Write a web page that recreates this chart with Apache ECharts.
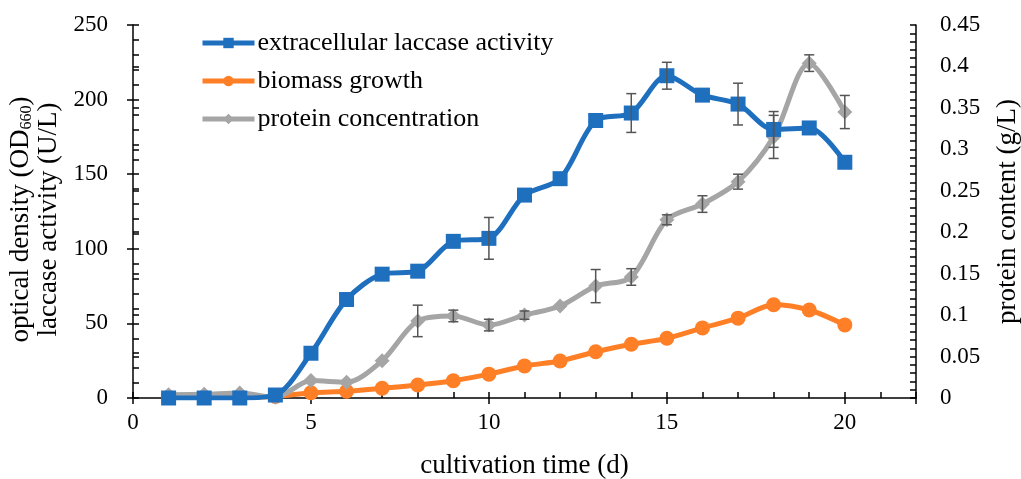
<!DOCTYPE html>
<html>
<head>
<meta charset="utf-8">
<script src="https://cdn.jsdelivr.net/npm/echarts@6/dist/echarts.min.js"></script>
<style>
  html, body { margin: 0; padding: 0; background: #fff; }
  #chart { width: 1021px; height: 479px; }
</style>
</head>
<body>
<div id="chart"></div>
<script>
// cultivation days
const days = [1, 2, 3, 4, 5, 6, 7, 8, 9, 10, 11, 12, 13, 14, 15, 16, 17, 18, 19, 20];

// extracellular laccase activity (U/L), left axis
const laccase = [0, 0, 0, 2, 30, 66, 83, 85, 105, 107, 136, 147, 186, 191, 216, 203, 197, 180, 181, 158];
const laccaseErr = [0, 0, 0, 0, 0, 0, 0, 0, 0, 14, 0, 0, 0, 13, 9, 0, 14, 12, 0, 0];

// biomass growth (OD660), left axis
const biomass = [0.5, 0.5, 0.5, 1, 3.5, 4.5, 6.5, 8.7, 11.6, 16, 21.5, 24.8, 31, 36, 40, 47, 53.5, 62.5, 59, 49];

// protein concentration (g/L), right axis
const protein = [0.004, 0.0045, 0.006, 0.001, 0.021, 0.019, 0.045, 0.093, 0.099, 0.088, 0.100, 0.111, 0.135, 0.146, 0.215, 0.234, 0.261, 0.315, 0.404, 0.345];
const proteinErr = [0, 0, 0, 0, 0, 0, 0, 0.019, 0.007, 0.007, 0.005, 0, 0.02, 0.01, 0.006, 0.01, 0.009, 0.026, 0.01, 0.02];

const FONT = 'Liberation Serif';
const BLUE = '#1f6fbf';
const ORANGE = '#ff7f27';
const GREY = '#a5a5a5';

const chart = echarts.init(document.getElementById('chart'), null, { renderer: 'canvas' });

// vertical error bars with short caps
function errorBars(values, errs, yAxisIndex) {
  const data = [];
  values.forEach((v, i) => {
    if (errs[i] > 0) data.push([days[i], v - errs[i], v + errs[i]]);
  });
  return {
    type: 'custom',
    xAxisIndex: 0,
    yAxisIndex: yAxisIndex,
    z: 10,
    silent: true,
    data: data,
    renderItem: function (params, api) {
      const x = api.value(0);
      const lo = api.coord([x, api.value(1)]);
      const hi = api.coord([x, api.value(2)]);
      const w = 5;
      const style = { stroke: '#555', lineWidth: 1.5, fill: null };
      return {
        type: 'group',
        children: [
          { type: 'line', shape: { x1: lo[0], y1: lo[1], x2: hi[0], y2: hi[1] }, style: style },
          { type: 'line', shape: { x1: lo[0] - w, y1: lo[1], x2: lo[0] + w, y2: lo[1] }, style: style },
          { type: 'line', shape: { x1: hi[0] - w, y1: hi[1], x2: hi[0] + w, y2: hi[1] }, style: style }
        ]
      };
    }
  };
}

const axisLine = { show: true, onZero: false, lineStyle: { color: '#000', width: 1.5 } };
const tickStyle = { color: '#000', width: 1.5 };
const labelStyle = { color: '#000', fontFamily: FONT, fontSize: 23 };
const titleStyle = { color: '#000', fontFamily: FONT, fontSize: 27 };

const option = {
  animation: false,
  backgroundColor: '#fff',
  grid: { left: 133, right: 105, top: 25, bottom: 81, containLabel: false, outerBoundsMode: 'none' },
  legend: {
    left: 195,
    top: 25,
    orient: 'vertical',
    itemWidth: 52,
    itemHeight: 13,
    itemGap: 12,
    lineStyle: { width: 5 },
    textStyle: { color: '#000', fontFamily: FONT, fontSize: 26, lineHeight: 26, padding: [0, 0, 0, -2] },
    data: ['extracellular laccase activity', 'biomass growth', 'protein concentration']
  },
  xAxis: [
    {
      type: 'value', min: 0, max: 22, interval: 5,
      axisLine: axisLine,
      axisTick: { show: true, inside: true, length: 6, lineStyle: tickStyle },
      minorTick: { show: true, splitNumber: 5, length: 6, lineStyle: tickStyle },
      splitLine: { show: false },
      axisLabel: { ...labelStyle, margin: 13, showMaxLabel: false },
      name: 'cultivation time (d)',
      nameLocation: 'middle',
      nameGap: 54,
      nameTextStyle: titleStyle
    },
    {
      type: 'value', min: 0, max: 22, interval: 5, position: 'bottom',
      axisLine: { show: false },
      axisTick: { show: true, inside: false, length: 6, lineStyle: tickStyle },
      axisLabel: { show: false },
      splitLine: { show: false }
    }
  ],
  yAxis: [
    {
      type: 'value', min: 0, max: 250, interval: 50, position: 'left',
      axisLine: axisLine,
      axisTick: { show: true, inside: true, length: 6, lineStyle: tickStyle },
      minorTick: { show: true, splitNumber: 5, length: 6, lineStyle: tickStyle },
      splitLine: { show: false },
      axisLabel: { ...labelStyle, margin: 25 },
      name: '{t|optical density (OD}{s|660}{t|)}\n{t|laccase activity (U/L)}',
      nameLocation: 'middle',
      nameRotate: 90,
      nameGap: 63,
      nameTextStyle: {
        ...titleStyle, lineHeight: 28,
        padding: [0, 16, 0, 0],
        rich: {
          t: { ...titleStyle, lineHeight: 28 },
          s: { ...titleStyle, fontSize: 16, lineHeight: 28, verticalAlign: 'bottom', padding: [12, 0, 0, 0] }
        }
      }
    },
    {
      type: 'value', min: 0, max: 0.45, interval: 0.05, position: 'right',
      axisLine: axisLine,
      axisTick: { show: true, inside: true, length: 6, lineStyle: tickStyle },
      minorTick: { show: true, splitNumber: 5, length: 6, lineStyle: tickStyle },
      splitLine: { show: false },
      axisLabel: { ...labelStyle, margin: 24, formatter: v => String(+v.toFixed(2)) },
      name: 'protein content (g/L)',
      nameLocation: 'middle',
      nameRotate: 90,
      nameGap: 78,
      nameTextStyle: titleStyle
    },
    {
      type: 'value', min: 0, max: 250, interval: 50, position: 'left',
      axisLine: { show: false },
      axisTick: { show: true, inside: false, length: 6, lineStyle: tickStyle },
      axisLabel: { show: false },
      splitLine: { show: false }
    },
    {
      type: 'value', min: 0, max: 0.45, interval: 0.05, position: 'right',
      axisLine: { show: false },
      axisTick: { show: true, inside: false, length: 6, lineStyle: tickStyle },
      axisLabel: { show: false },
      splitLine: { show: false }
    }
  ],
  series: [
    {
      name: 'biomass growth',
      type: 'line', xAxisIndex: 0, yAxisIndex: 0, z: 3,
      smooth: 0.3,
      data: days.map((d, i) => [d, biomass[i]]),
      symbol: 'circle', symbolSize: 15,
      lineStyle: { color: ORANGE, width: 5 },
      itemStyle: { color: ORANGE }
    },
    {
      name: 'protein concentration',
      type: 'line', xAxisIndex: 0, yAxisIndex: 1, z: 4,
      smooth: 0.3,
      data: days.map((d, i) => [d, protein[i]]),
      symbol: 'diamond', symbolSize: 15,
      lineStyle: { color: GREY, width: 5 },
      itemStyle: { color: GREY }
    },
    {
      name: 'extracellular laccase activity',
      type: 'line', xAxisIndex: 0, yAxisIndex: 0, z: 5,
      smooth: 0.3,
      data: days.map((d, i) => [d, laccase[i]]),
      symbol: 'rect', symbolSize: 15,
      lineStyle: { color: BLUE, width: 5 },
      itemStyle: { color: BLUE }
    },
    errorBars(protein, proteinErr, 1),
    errorBars(laccase, laccaseErr, 0)
  ]
};

chart.setOption(option);
</script>
</body>
</html>
